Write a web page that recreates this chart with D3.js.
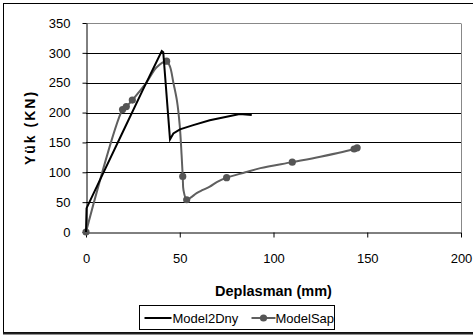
<!DOCTYPE html>
<html>
<head>
<meta charset="utf-8">
<script src="https://cdn.jsdelivr.net/npm/d3@7"></script>
<style>
  body { margin: 0; background: #fff; }
  svg { display: block; font-family: "Liberation Sans", Arial, sans-serif; }
</style>
</head>
<body>
<div id="chart"></div>
<script>
// data
var dnyX = [0, 0.3, 10, 20, 30, 40.4, 41.2, 44.8, 46.6, 50.1, 57.2, 66, 75, 82, 88.4];
var dnyY = [0, 40, 104, 170, 236, 303, 301, 155, 165, 172, 179, 187, 193, 197.5, 196];

var sapX = [0, 19.5, 21.5, 24.7, 32.4, 37.7, 43, 44.8, 46.6, 48.5, 50, 51, 51.6, 52, 53.7, 56, 59, 62, 66, 70, 75, 85, 93, 110, 125, 143, 144.6];
var sapY = [0, 205, 210, 221, 251, 276, 286, 277, 250, 220, 178, 128, 93, 70, 54, 58, 65, 70, 76, 84, 91, 100, 107, 117, 126, 139, 141];
var sapMarker = [1, 1, 1, 1, 0, 0, 1, 0, 0, 0, 0, 0, 1, 0, 1, 0, 0, 0, 0, 0, 1, 0, 0, 1, 0, 1, 1];

var xTicks = [0, 50, 100, 150, 200];
var yTicks = [0, 50, 100, 150, 200, 250, 300, 350];
var seriesNames = ["Model2Dny", "ModelSap"];

var W = 473, H = 335;
var margin = {top: 23, right: 12, bottom: 103, left: 86},
    width = W - margin.left - margin.right,
    height = H - margin.top - margin.bottom;

var svg = d3.select("#chart")
    .append("svg")
    .attr("width", W)
    .attr("height", H);

// outer frame (right edge runs off the picture)
svg.append("rect")
    .attr("x", 3.5).attr("y", 3.5)
    .attr("width", 480).attr("height", 329)
    .attr("fill", "none").attr("stroke", "#000");
svg.append("line")
    .attr("x1", 3).attr("x2", W).attr("y1", 333.5).attr("y2", 333.5)
    .attr("stroke", "#222").attr("stroke-width", 2);

var g = svg.append("g")
    .attr("transform", "translate(" + margin.left + "," + margin.top + ")");

var x = d3.scaleLinear().domain([0, 200]).range([0, width]);
var y = d3.scaleLinear().domain([0, 350]).range([height, 0]);

// gridlines
g.selectAll(".grid")
    .data(yTicks.filter(function(d) { return d > 0; }))
    .enter().append("line")
    .attr("x1", 0).attr("x2", width)
    .attr("y1", function(d) { return Math.round(y(d)) + 0.5; })
    .attr("y2", function(d) { return Math.round(y(d)) + 0.5; })
    .attr("stroke", function(d) { return d == 350 ? "#888" : "#000"; });

// plot area right border
g.append("line")
    .attr("x1", width + 0.5).attr("x2", width + 0.5)
    .attr("y1", Math.round(y(350)) + 0.5).attr("y2", height)
    .attr("stroke", "#888");

// axes
var xAxis = g.append("g")
    .attr("transform", "translate(0," + (Math.round(height) + 0.5) + ")")
    .call(d3.axisBottom(x).tickValues(xTicks).tickSize(5).tickSizeOuter(0).tickPadding(16));
var yAxis = g.append("g")
    .attr("transform", "translate(0.5,0)")
    .call(d3.axisLeft(y).tickValues(yTicks).tickSize(4).tickSizeOuter(0).tickPadding(12));

[xAxis, yAxis].forEach(function(a) {
    a.select(".domain").attr("stroke", "#000");
    a.selectAll(".tick line").attr("stroke", "#000");
    a.selectAll("text")
        .attr("fill", "#000")
        .style("font-size", "13px")
        .style("font-family", "Liberation Sans, Arial, sans-serif");
});

// series
var dny = dnyX.map(function(d, i) { return {x: d, y: dnyY[i]}; });
var sap = sapX.map(function(d, i) { return {x: d, y: sapY[i], m: sapMarker[i]}; });

g.append("path")
    .datum(sap)
    .attr("fill", "none")
    .attr("stroke", "#5f5f5f")
    .attr("stroke-width", 2)
    .attr("d", d3.line()
        .x(function(d) { return x(d.x); })
        .y(function(d) { return y(d.y); })
        .curve(d3.curveCatmullRom));

g.selectAll(".mk")
    .data(sap.filter(function(d) { return d.m; }))
    .enter().append("circle")
    .attr("cx", function(d) { return x(d.x); })
    .attr("cy", function(d) { return y(d.y); })
    .attr("r", 3.6)
    .attr("fill", "#555");

g.append("path")
    .datum(dny)
    .attr("fill", "none")
    .attr("stroke", "#000")
    .attr("stroke-width", 2)
    .attr("stroke-linejoin", "miter")
    .attr("d", d3.line()
        .x(function(d) { return x(d.x); })
        .y(function(d) { return y(d.y); }));

// axis titles
svg.append("text")
    .attr("x", margin.left + width / 2)
    .attr("y", 296)
    .attr("text-anchor", "middle")
    .style("font-size", "14.5px")
    .style("font-weight", "bold")
    .text("Deplasman (mm)");

svg.append("text")
    .attr("transform", "translate(35," + (margin.top + height / 2) + ") rotate(-90)")
    .attr("text-anchor", "middle")
    .style("font-size", "14px")
    .style("font-weight", "bold")
    .style("letter-spacing", "2px")
    .text("Yük (KN)");

// legend
var lg = svg.append("g").attr("transform", "translate(139.5,305.5)");
lg.append("rect")
    .attr("width", 195).attr("height", 24)
    .attr("fill", "#fff").attr("stroke", "#000");
lg.append("line")
    .attr("x1", 5).attr("x2", 32).attr("y1", 12.5).attr("y2", 12.5)
    .attr("stroke", "#000").attr("stroke-width", 2);
lg.append("text")
    .attr("x", 33).attr("y", 17)
    .style("font-size", "13px")
    .text(seriesNames[0]);
lg.append("line")
    .attr("x1", 112).attr("x2", 136).attr("y1", 12.5).attr("y2", 12.5)
    .attr("stroke", "#5f5f5f").attr("stroke-width", 2);
lg.append("circle")
    .attr("cx", 124).attr("cy", 12.5).attr("r", 3.6)
    .attr("fill", "#555");
lg.append("text")
    .attr("x", 136).attr("y", 17)
    .style("font-size", "13px")
    .text(seriesNames[1]);
</script>
</body>
</html>
